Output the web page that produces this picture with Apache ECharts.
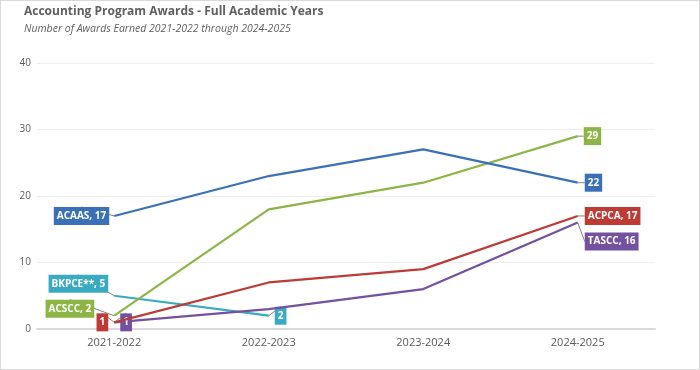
<!DOCTYPE html>
<html>
<head>
<meta charset="utf-8">
<script src="https://cdn.jsdelivr.net/npm/echarts@6/dist/echarts.min.js"></script>
<style>
html,body{margin:0;padding:0;background:#fff;}
#wrap{width:700px;height:370px;box-sizing:border-box;border:1px solid #d9d9d9;position:relative;}
#chart{position:absolute;left:-1px;top:-1px;width:700px;height:370px;}
</style>
</head>
<body>
<div id="wrap"><div id="chart"></div></div>
<script>
const categories = ['2021-2022', '2022-2023', '2023-2024', '2024-2025'];
const yTicks = [0, 10, 20, 30, 40];
const seriesNames = ['ACAAS', 'ACSCC', 'ACPCA', 'TASCC', 'BKPCE**'];
const acaas = [17, 23, 27, 22];
const acscc = [2, 18, 22, 29];
const acpca = [1, 7, 9, 17];
const tascc = [1, 3, 6, 16];
const bkpce = [5, 2];

const colors = ['#3a70b8', '#8db545', '#be3a34', '#7350a0', '#3aaac2'];
const values = [acaas, acscc, acpca, tascc, bkpce];

const firstLabelWithName = [true, true, false, false, true];
const lastLabelWithName = [false, false, true, true, false];
const firstPos = ['left', 'left', 'left', 'right', 'left'];
const firstDist = [5, 5, 6, 6, 5];
const lastDist = [7, 6, 7, 7, 6];
const layoutShift = {
  '1-0': {dx: -15, dy: -7},
  '4-0': {dx: -1, dy: -12},
  '3-3': {dx: 0, dy: 19}
};

const chart = echarts.init(document.getElementById('chart'), null, {renderer: 'canvas'});
const FONT = '"Open Sans", "Noto Sans", sans-serif';

const series = values.map(function (arr, si) {
  const last = arr.length - 1;
  return {
    name: seriesNames[si],
    type: 'line',
    data: arr.map(function (v, i) {
      const item = {value: v};
      if (i === 0 || i === last) {
        const withName = i === 0 ? firstLabelWithName[si] : lastLabelWithName[si];
        item.label = {
          show: true,
          position: i === 0 ? firstPos[si] : 'right',
          distance: i === 0 ? firstDist[si] : lastDist[si],
          formatter: withName ? seriesNames[si] + ', ' + v : String(v)
        };
      } else {
        item.label = {show: false};
      }
      return item;
    }),
    symbol: 'circle',
    symbolSize: 0,
    showSymbol: true,
    showAllSymbol: true,
    lineStyle: {width: 2.2, color: colors[si]},
    itemStyle: {color: colors[si]},
    label: {
      color: '#fff',
      backgroundColor: colors[si],
      fontWeight: 'bold',
      fontSize: 10,
      fontFamily: FONT,
      padding: [3, 3, 3, 3],
      lineHeight: 12
    },
    labelLine: {
      show: true,
      lineStyle: {color: '#808080', width: 1}
    },
    labelLayout: function (p) {
      const key = p.seriesIndex + '-' + p.dataIndex;
      if (layoutShift[key]) return layoutShift[key];
      return {};
    },
    emphasis: {disabled: true},
    animation: false,
    z: 10 - si
  };
});

chart.setOption({
  animation: false,
  color: colors,
  title: [{
    text: 'Accounting Program Awards - Full Academic Years',
    left: 24, top: 6, padding: 0,
    textStyle: {fontFamily: FONT, fontSize: 12, fontWeight: 'bold', color: '#606060'}
  }, {
    text: 'Number of Awards Earned 2021-2022 through 2024-2025',
    left: 24, top: 24, padding: 0,
    textStyle: {fontFamily: FONT, fontSize: 10.5, fontStyle: 'italic', fontWeight: 'normal', color: '#606060'}
  }],
  grid: {left: 37, right: 45, top: 63, bottom: 41, containLabel: false},
  xAxis: {
    type: 'category',
    data: categories,
    boundaryGap: true,
    axisLine: {show: true, lineStyle: {color: '#d9d9d9', width: 2}},
    axisTick: {show: false},
    axisLabel: {color: '#595959', fontSize: 11, fontFamily: FONT, margin: 8}
  },
  yAxis: {
    type: 'value',
    min: yTicks[0],
    max: yTicks[yTicks.length - 1],
    interval: 10,
    axisLine: {show: false},
    axisTick: {show: false},
    splitLine: {lineStyle: {color: '#eeeeee', width: 1}},
    axisLabel: {color: '#595959', fontSize: 10, fontFamily: FONT, margin: 6}
  },
  series: series
});
</script>
</body>
</html>
